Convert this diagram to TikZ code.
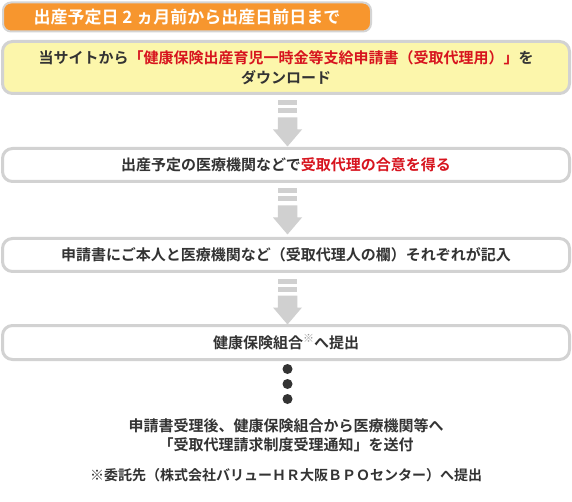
\documentclass[tikz,border=0pt]{standalone}
\usepackage{fontspec}
\setmainfont{Noto Sans CJK JP}[BoldFont={* Bold}]
\usetikzlibrary{calc}
\definecolor{boxgray}{HTML}{D2D2D2}
\definecolor{arrowgray}{HTML}{D0D0D0}
\definecolor{orangehd}{HTML}{F7962E}
\definecolor{hdborder}{HTML}{D4D4D4}
\definecolor{yellowbox}{HTML}{FCF6AB}
\definecolor{redtxt}{HTML}{D7141E}
\definecolor{txtdark}{HTML}{333333}
\definecolor{supgray}{HTML}{999999}
\newcommand\fsz[2]{\fontsize{#1}{#2}\selectfont\bfseries}
\begin{document}
\begin{tikzpicture}[x=1pt,y=-1pt,line join=round,
  flowbox/.style={draw=boxgray,line width=3pt,rounded corners=10pt,fill=white,
    minimum width=567pt,inner sep=0pt,text=txtdark,align=center,font=\fsz{15}{20.5}},
  plaintxt/.style={inner sep=0pt,text=txtdark,align=center,font=\fsz{15}{19}},
  arrowfill/.style={fill=arrowgray,draw=none},
  dotfill/.style={fill=txtdark,draw=none}]
\useasboundingbox (0,0) rectangle (572,502);
\fill[white] (0,0) rectangle (572,502);
\coordinate (axis) at (287.5,0);
% header
\node[draw=hdborder,line width=2pt,fill=orangehd,rounded corners=8pt,
  minimum width=368pt,minimum height=29pt,inner sep=0pt,text=white,font=\fsz{17}{17}]
  (hdr) at (187,17) {出産予定日 2 ヵ月前から出産日前日まで};
% boxes
\node[flowbox,fill=yellowbox,minimum height=52pt] (b1) at (286,67.5)
  {当サイトから\textcolor{redtxt}{「健康保険出産育児一時金等支給申請書（受取代理用）」}を\\ダウンロード};
\node[flowbox,minimum height=33pt] (b2) at (286,165)
  {出産予定の医療機関などで\textcolor{redtxt}{受取代理の合意を得る}};
\node[flowbox,minimum height=33pt] (b3) at (286,255)
  {申請書にご本人と医療機関など（受取代理人の欄）それぞれが記入};
\node[flowbox,minimum height=34pt] (b4) at (286,342.5)
  {健康保険組合{\fsz{11}{11}\color{supgray}\raisebox{6pt}{※}}へ提出};
% arrows
\foreach \s in {b1,b2,b3}{
  \begin{scope}[shift={(\s.south -| axis)}]
    \path[arrowfill] (-9.75,5.5) rectangle (9.75,10.5);
    \path[arrowfill] (-9.75,13.5) rectangle (9.75,18.5);
    \path[arrowfill] (-9.75,22.5) -- (9.75,22.5) -- (9.75,34.5) -- (14.5,34.5)
      -- (0,51.5) -- (-14.5,34.5) -- (-9.75,34.5) -- cycle;
  \end{scope}
}
% dots
\coordinate (d0) at (b4.south -| axis);
\foreach \dy in {8,23,38}{
  \fill[dotfill] ($(d0)+(0,\dy)$) circle (5);
}
% bottom texts
\node[plaintxt] (note) at (286,435.5)
  {申請書受理後、健康保険組合から医療機関等へ\\「受取代理請求制度受理通知」を送付};
\node[plaintxt,font=\fsz{14}{14}] (foot) at (286,475)
  {※委託先（株式会社バリューＨＲ大阪ＢＰＯセンター）へ提出};
\end{tikzpicture}
\end{document}
